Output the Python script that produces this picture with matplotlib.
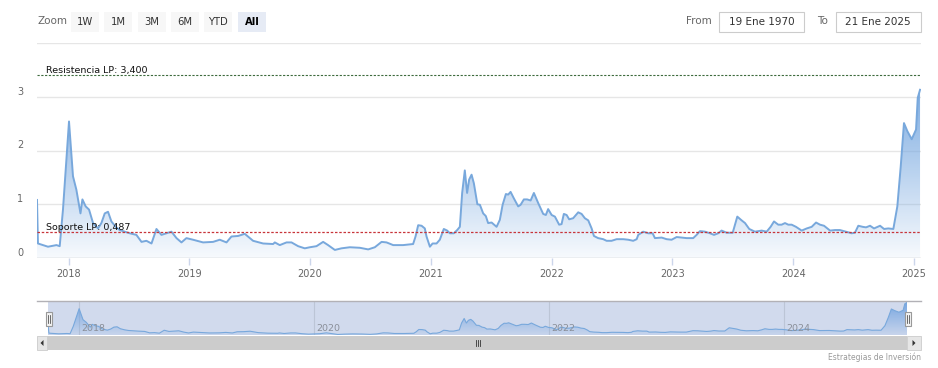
import numpy as np
import matplotlib
matplotlib.use('Agg')
from matplotlib import pyplot as plt
from matplotlib import transforms
from matplotlib.colors import LinearSegmentedColormap
from matplotlib.patches import Rectangle, Polygon

# fecha (anio decimal) y valor de la serie
dates = [
  2017.739, 2017.747, 2017.830, 2017.900, 2017.927, 2017.954, 2018.004, 2018.037,
  2018.065, 2018.099, 2018.115, 2018.142, 2018.170, 2018.203, 2018.244, 2018.272,
  2018.300, 2018.327, 2018.355, 2018.391, 2018.424, 2018.465, 2018.507, 2018.562,
  2018.604, 2018.645, 2018.687, 2018.728, 2018.769, 2018.811, 2018.852, 2018.894,
  2018.935, 2018.976, 2019.031, 2019.114, 2019.197, 2019.252, 2019.308, 2019.349,
  2019.404, 2019.459, 2019.501, 2019.528, 2019.611, 2019.694, 2019.708, 2019.749,
  2019.805, 2019.846, 2019.901, 2019.956, 2019.998, 2020.053, 2020.108, 2020.149,
  2020.205, 2020.260, 2020.329, 2020.412, 2020.481, 2020.536, 2020.592, 2020.633,
  2020.688, 2020.770, 2020.853, 2020.873, 2020.895, 2020.923, 2020.950, 2020.964,
  2020.992, 2021.014, 2021.047, 2021.074, 2021.107, 2021.135, 2021.157, 2021.190,
  2021.218, 2021.240, 2021.259, 2021.281, 2021.300, 2021.317, 2021.337, 2021.356,
  2021.385, 2021.406, 2021.433, 2021.455, 2021.474, 2021.503, 2021.544, 2021.571,
  2021.594, 2021.621, 2021.640, 2021.660, 2021.687, 2021.723, 2021.743, 2021.770,
  2021.797, 2021.826, 2021.853, 2021.889, 2021.930, 2021.952, 2021.971, 2022.000,
  2022.027, 2022.062, 2022.082, 2022.101, 2022.124, 2022.145, 2022.178, 2022.220,
  2022.248, 2022.275, 2022.303, 2022.331, 2022.350, 2022.385, 2022.427, 2022.455,
  2022.496, 2022.538, 2022.593, 2022.634, 2022.675, 2022.704, 2022.717, 2022.758,
  2022.800, 2022.836, 2022.855, 2022.911, 2022.952, 2022.993, 2023.035, 2023.076,
  2023.118, 2023.172, 2023.200, 2023.228, 2023.269, 2023.311, 2023.344, 2023.379,
  2023.407, 2023.449, 2023.499, 2023.537, 2023.573, 2023.601, 2023.636, 2023.683,
  2023.739, 2023.780, 2023.813, 2023.841, 2023.876, 2023.904, 2023.932, 2023.959,
  2023.987, 2024.023, 2024.070, 2024.112, 2024.153, 2024.189, 2024.222, 2024.255,
  2024.305, 2024.346, 2024.387, 2024.437, 2024.484, 2024.511, 2024.539, 2024.575,
  2024.603, 2024.636, 2024.669, 2024.719, 2024.752, 2024.787, 2024.829, 2024.862,
  2024.890, 2024.917, 2024.945, 2024.981, 2025.017, 2025.031, 2025.050,
]
values = [
  1.08, 0.27, 0.21, 0.24, 0.22, 0.90, 2.54, 1.52,
  1.27, 0.83, 1.09, 0.96, 0.90, 0.65, 0.55, 0.65,
  0.83, 0.86, 0.68, 0.58, 0.52, 0.49, 0.46, 0.43,
  0.30, 0.32, 0.27, 0.54, 0.43, 0.46, 0.49, 0.37,
  0.29, 0.37, 0.34, 0.29, 0.30, 0.34, 0.29, 0.40,
  0.41, 0.45, 0.37, 0.32, 0.27, 0.26, 0.29, 0.24,
  0.29, 0.29, 0.22, 0.18, 0.20, 0.22, 0.30, 0.24,
  0.15, 0.18, 0.20, 0.19, 0.16, 0.20, 0.30, 0.29,
  0.24, 0.24, 0.26, 0.40, 0.61, 0.60, 0.55, 0.40,
  0.21, 0.27, 0.27, 0.34, 0.54, 0.51, 0.46, 0.46,
  0.52, 0.58, 1.21, 1.63, 1.21, 1.46, 1.55, 1.39,
  1.00, 0.99, 0.83, 0.78, 0.65, 0.66, 0.58, 0.71,
  0.99, 1.19, 1.18, 1.23, 1.11, 0.96, 0.99, 1.09,
  1.09, 1.07, 1.21, 1.02, 0.82, 0.80, 0.91, 0.80,
  0.77, 0.62, 0.63, 0.82, 0.80, 0.72, 0.74, 0.85,
  0.82, 0.74, 0.70, 0.55, 0.41, 0.37, 0.35, 0.32,
  0.32, 0.35, 0.35, 0.34, 0.32, 0.35, 0.43, 0.49,
  0.46, 0.46, 0.37, 0.38, 0.35, 0.34, 0.39, 0.38,
  0.37, 0.37, 0.43, 0.50, 0.49, 0.46, 0.43, 0.46,
  0.51, 0.47, 0.47, 0.77, 0.70, 0.65, 0.54, 0.49,
  0.51, 0.49, 0.58, 0.68, 0.62, 0.62, 0.65, 0.62,
  0.62, 0.58, 0.51, 0.55, 0.58, 0.66, 0.62, 0.60,
  0.51, 0.52, 0.52, 0.49, 0.46, 0.47, 0.60, 0.58,
  0.57, 0.60, 0.55, 0.60, 0.54, 0.55, 0.54, 0.96,
  1.70, 2.51, 2.36, 2.21, 2.39, 2.98, 3.13,
]

years = [2018, 2019, 2020, 2021, 2022, 2023, 2024, 2025]
nav_years = [2018, 2020, 2022, 2024]
y_ticks = [0, 1, 2, 3, 4]
y_labels = ['0', '1', '2', '3', '']
buttons = ['1W', '1M', '3M', '6M', 'YTD', 'All']
resistencia = 3.4
soporte = 0.487
resistencia_txt = 'Resistencia LP: 3,400'
soporte_txt = 'Soporte LP: 0,487'
from_date = '19 Ene 1970'
to_date = '21 Ene 2025'
credit = 'Estrategias de Inversión'

W, H = 938, 368
LINE = '#78a8dc'


def box(x, y, w, h):
  # pixel box (top-left origin) -> figure fraction
  return [x / W, 1 - (y + h) / H, w / W, h / H]


def gradient_fill(ax, x, y, base, top, c0, c1):
  poly = ax.fill_between(x, y, base, facecolor='none', edgecolor='none')
  cmap = LinearSegmentedColormap.from_list('area', [c0, c1])
  grad = np.linspace(0, 1, 256).reshape(-1, 1)
  im = ax.imshow(grad, extent=[x[0], x[-1], base, top], origin='lower',
                 aspect='auto', cmap=cmap, zorder=1)
  im.set_clip_path(poly.get_paths()[0], ax.transData)


def main():
  x = np.array(dates)
  y = np.array(values)

  fig = plt.figure(figsize=(W / 100, H / 100), dpi=100)
  fig.patch.set_facecolor('white')

  # main chart
  ax = fig.add_axes(box(37, 43, 884, 215))
  gradient_fill(ax, x, y, 0, y.max(), (0.47, 0.66, 0.88, 0.06), (0.47, 0.66, 0.88, 0.95))
  ax.plot(x, y, color=LINE, lw=1.4, zorder=3)
  for v in y_ticks:
    ax.axhline(v, color='#e6e6e6', lw=1, zorder=0)
  ax.axhline(0, color='#d8d8d8', lw=1, zorder=0)

  ax.axhline(resistencia, color='#3d6b3d', lw=0.8, ls=(0, (2, 1.4)), zorder=4)
  ax.axhline(soporte, color='#c8353a', lw=0.9, ls=(0, (2, 1.4)), zorder=4)
  ax.text(0.0102, resistencia, resistencia_txt, transform=ax.get_yaxis_transform(),
          va='bottom', ha='left', fontsize=6.8, color='#111', zorder=5)
  ax.text(0.0102, soporte, soporte_txt, transform=ax.get_yaxis_transform(),
          va='bottom', ha='left', fontsize=6.8, color='#111', zorder=5)

  ax.set_xlim(x[0], 2025.058)
  ax.set_ylim(0, 4)
  ax.set_xticks(years)
  ax.set_xticklabels([str(v) for v in years])
  ax.set_yticks(y_ticks)
  ax.set_yticklabels(y_labels)
  for lbl in ax.get_yticklabels():
    lbl.set_va('bottom')
  ax.tick_params(axis='x', length=5, width=1, color='#ccd6eb', pad=3,
                 labelsize=7, labelcolor='#666666')
  ax.tick_params(axis='y', length=0, pad=10, labelsize=7, labelcolor='#666666')
  for s in ax.spines.values():
    s.set_visible(False)

  # navigator
  nav = fig.add_axes(box(48, 301, 859, 34))
  nav.set_facecolor('#d1daed')
  gradient_fill(nav, x, y, 0.1, y.max(), (0.45, 0.64, 0.88, 0.1), (0.45, 0.64, 0.88, 0.95))
  nav.plot(x, y, color=LINE, lw=0.8, zorder=3)
  off = transforms.offset_copy(nav.get_xaxis_transform(), fig, x=3, y=0, units='dots')
  for yr in nav_years:
    nav.axvline(yr, color='#bcc5d6', lw=0.8, zorder=0)
    nav.text(yr, 0.2, str(yr), transform=off, ha='left', va='center',
             fontsize=6.8, color='#8a8f99', zorder=4)
  nav.set_xlim(x[0], x[-1])
  nav.set_ylim(0.1, 3.25)
  nav.set_xticks([])
  nav.set_yticks([])
  for s in nav.spines.values():
    s.set_visible(False)

  # ui layer in pixel coords
  ui = fig.add_axes([0, 0, 1, 1], zorder=10)
  ui.set_xlim(0, W)
  ui.set_ylim(H, 0)
  ui.axis('off')

  ui.text(37, 21.5, 'Zoom', ha='left', va='center', fontsize=7.5, color='#666666')
  bx = [71, 104, 137.7, 171, 204, 237.7]
  for b, x0 in zip(buttons, bx):
    sel = b == 'All'
    ui.add_patch(Rectangle((x0, 12.3), 28.3, 19.4, facecolor='#e6ebf5' if sel else '#f7f7f7',
                           edgecolor='none'))
    ui.text(x0 + 14.15, 21.8, b, ha='center', va='center', fontsize=7.2,
            color='#000000' if sel else '#333333', fontweight='bold' if sel else 'normal')

  ui.text(712, 21.5, 'From', ha='right', va='center', fontsize=7.5, color='#666666')
  ui.add_patch(Rectangle((719.3, 12.3), 85, 19.4, facecolor='white', edgecolor='#cccccc', lw=0.8))
  ui.text(761.8, 21.8, from_date, ha='center', va='center', fontsize=7.5, color='#333333')
  ui.text(828, 21.5, 'To', ha='right', va='center', fontsize=7.5, color='#666666')
  ui.add_patch(Rectangle((835.7, 12.3), 85, 19.4, facecolor='white', edgecolor='#cccccc', lw=0.8))
  ui.text(878.2, 21.8, to_date, ha='center', va='center', fontsize=7.5, color='#333333')

  # navigator outline + handles
  ui.plot([37, 921], [301, 301], color='#b2b1b6', lw=1)
  for hx in [45.5, 904.5]:
    ui.add_patch(Rectangle((hx, 311.5), 6.5, 14.5, facecolor='#f2f2f2', edgecolor='#999999', lw=0.8))
    ui.plot([hx + 2.5, hx + 2.5], [315, 322.5], color='#333333', lw=0.5)
    ui.plot([hx + 4, hx + 4], [315, 322.5], color='#333333', lw=0.5)

  # scrollbar
  ui.add_patch(Rectangle((37, 336), 884, 14, facecolor='#f2f2f2', edgecolor='none'))
  ui.add_patch(Rectangle((47, 336), 860, 14, facecolor='#cccccc', edgecolor='none'))
  ui.add_patch(Rectangle((37, 336), 10, 14, facecolor='#e6e6e6', edgecolor='#cccccc', lw=0.6))
  ui.add_patch(Rectangle((907, 336), 13.5, 14, facecolor='#e6e6e6', edgecolor='#cccccc', lw=0.6))
  ui.add_patch(Polygon([[43.5, 340], [43.5, 346], [40.5, 343]], closed=True, facecolor='#333333'))
  ui.add_patch(Polygon([[912.5, 340], [912.5, 346], [915.5, 343]], closed=True, facecolor='#333333'))
  for gx in [475.5, 477.5, 479.5]:
    ui.plot([gx, gx], [340, 346], color='#333333', lw=0.6)

  ui.text(921, 357.5, credit, ha='right', va='center', fontsize=5.5, color='#999999')

  fig.savefig('out.png', dpi=100)


if __name__ == "__main__":
  main()
